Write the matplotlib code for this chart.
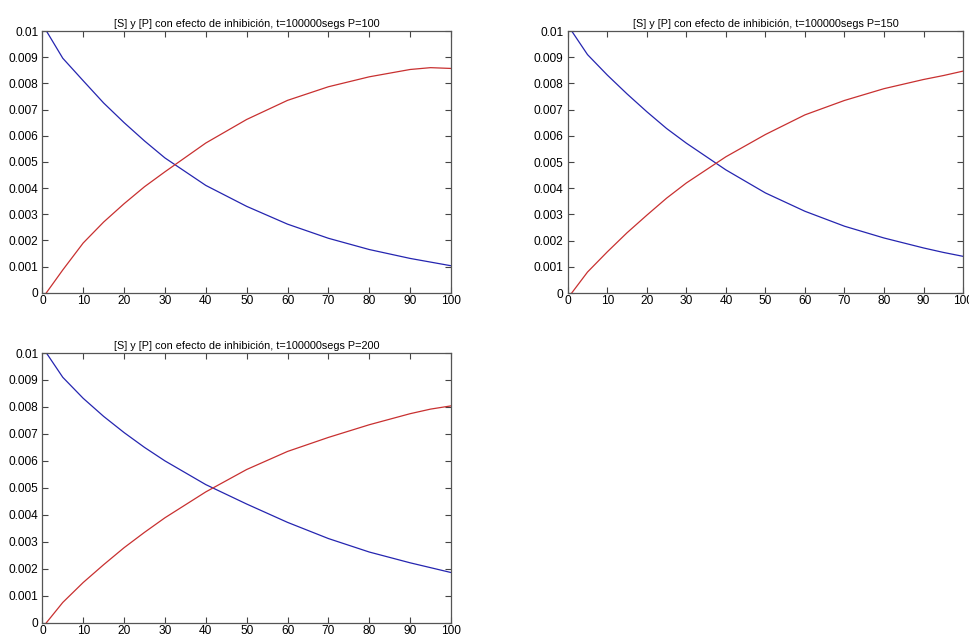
import matplotlib
matplotlib.use('Agg')
import matplotlib.pyplot as plt

# valores (t en pasos 1..100)
t = [1, 5, 10, 15, 20, 25, 30, 40, 50, 60, 70, 80, 90, 95, 100]

# P=100
s_100 = [0.0100, 0.00896, 0.0081, 0.00725, 0.0065, 0.0058, 0.00515, 0.0041, 0.0033, 0.00262, 0.00208, 0.00165, 0.00131, 0.00117, 0.00103]
p_100 = [0.0, 0.00087, 0.0019, 0.0027, 0.0034, 0.00405, 0.00462, 0.00572, 0.00662, 0.00735, 0.00787, 0.00825, 0.00853, 0.0086, 0.00857]

# P=150
s_150 = [0.0100, 0.0091, 0.00832, 0.0076, 0.00692, 0.00628, 0.00572, 0.0047, 0.00382, 0.00312, 0.00255, 0.0021, 0.00172, 0.00155, 0.0014]
p_150 = [0.0, 0.0008, 0.00157, 0.0023, 0.00297, 0.00362, 0.0042, 0.0052, 0.00605, 0.0068, 0.00735, 0.0078, 0.00815, 0.0083, 0.00847]

# P=200
s_200 = [0.0100, 0.0091, 0.00832, 0.00765, 0.00705, 0.0065, 0.006, 0.00512, 0.0044, 0.00372, 0.00312, 0.00262, 0.00222, 0.00204, 0.00186]
p_200 = [0.0, 0.00075, 0.00149, 0.00215, 0.00278, 0.00335, 0.00389, 0.00485, 0.00568, 0.00635, 0.00687, 0.00734, 0.00775, 0.00792, 0.00804]

titles = ['[S] y [P] con efecto de inhibición, t=100000segs P=100',
          '[S] y [P] con efecto de inhibición, t=100000segs P=150',
          '[S] y [P] con efecto de inhibición, t=100000segs P=200']

xticks = [0, 10, 20, 30, 40, 50, 60, 70, 80, 90, 100]
yticks = [0, 0.001, 0.002, 0.003, 0.004, 0.005, 0.006, 0.007, 0.008, 0.009, 0.01]
ylabels = ['0', '0.001', '0.002', '0.003', '0.004', '0.005', '0.006', '0.007', '0.008', '0.009', '0.01']

plt.rcParams['font.family'] = ['Liberation Sans', 'DejaVu Sans']

fig = plt.figure(figsize=(9.69, 6.37), dpi=100, facecolor='w')

# posiciones de los ejes como en la figura de MATLAB
boxes = [[0.0437, 0.5405, 0.4217, 0.4108],
         [0.5859, 0.5400, 0.4080, 0.4113],
         [0.0437, 0.0225, 0.4217, 0.4233]]
series = [(s_100, p_100), (s_150, p_150), (s_200, p_200)]

for box, (s, p), title in zip(boxes, series, titles):
    ax = fig.add_axes(box)
    ax.plot(t, s, color='#2525b0', lw=0.9)
    ax.plot(t, p, color='#c83030', lw=0.9)
    ax.set_xlim(0, 100)
    ax.set_ylim(0, 0.01)
    ax.set_xticks(xticks)
    ax.set_yticks(yticks)
    ax.set_yticklabels(ylabels)
    ax.tick_params(direction='in', top=True, right=True, length=4,
                   width=0.8, color='#444444', labelsize=8.6, pad=3)
    ax.tick_params(axis='x', pad=1.5)
    for sp in ax.spines.values():
        sp.set_color('#555555')
        sp.set_linewidth(0.9)
    ax.set_title(title, fontsize=7.8, pad=3)

fig.savefig('out.png', dpi=100)
